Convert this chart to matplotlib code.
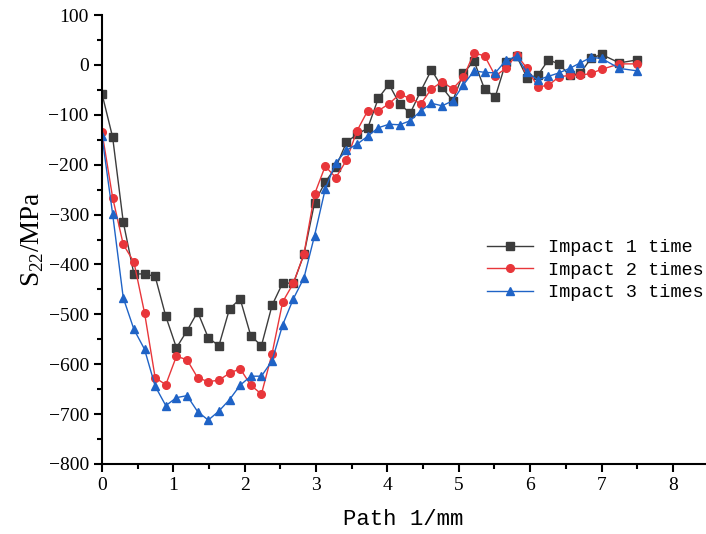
import matplotlib
matplotlib.use("Agg")
import matplotlib.pyplot as plt
from matplotlib.ticker import MultipleLocator

# Path positions (mm)
x = [0.000, 0.149, 0.298, 0.447, 0.596, 0.745, 0.894, 1.043, 1.191, 1.340,
     1.489, 1.638, 1.787, 1.936, 2.085, 2.234, 2.383, 2.532, 2.681, 2.830,
     2.979, 3.128, 3.277, 3.426, 3.574, 3.723, 3.872, 4.021, 4.170, 4.319,
     4.468, 4.617, 4.766, 4.915, 5.064, 5.213, 5.362, 5.511, 5.660, 5.809,
     5.957, 6.106, 6.255, 6.404, 6.553, 6.702, 6.851, 7.000, 7.250, 7.500]

impact1 = [-58, -145, -315, -419, -419, -424, -504, -567, -533, -495,
           -547, -563, -489, -469, -543, -563, -482, -437, -438, -380,
           -276, -235, -205, -155, -139, -127, -67, -39, -78, -97,
           -52, -10, -45, -72, -17, 8, -49, -64, 5, 18,
           -26, -21, 10, 2, -21, -17, 13, 21, 4, 10]

impact2 = [-135, -266, -360, -395, -497, -627, -641, -584, -591, -627,
           -635, -632, -618, -609, -642, -660, -579, -475, -438, -379,
           -259, -203, -226, -191, -132, -92, -92, -78, -59, -67,
           -78, -48, -34, -48, -25, 24, 18, -22, -7, 20,
           -7, -44, -41, -24, -21, -21, -17, -9, 2, 2]

impact3 = [-143, -299, -467, -530, -570, -644, -683, -667, -663, -695,
           -712, -694, -671, -642, -624, -624, -593, -521, -469, -427,
           -342, -249, -196, -171, -159, -143, -126, -119, -120, -112,
           -92, -77, -82, -72, -40, -12, -15, -16, 9, 17,
           -15, -30, -23, -16, -7, 4, 15, 13, -7, -12]

labels = ["Impact 1 time", "Impact 2 times", "Impact 3 times"]

fig = plt.figure(figsize=(7.06, 5.34), dpi=100)
ax = fig.add_axes([102/706, 1-464/534, (705-102)/706, (464-15)/534])

ax.plot(x, impact1, color="#3c3c3c", lw=1.0, marker="s", ms=5.3, label=labels[0])
ax.plot(x, impact2, color="#e8363a", lw=1.0, marker="o", ms=5.5, label=labels[1])
ax.plot(x, impact3, color="#1f63c6", lw=1.0, marker="^", ms=6, label=labels[2])

ax.set_xlim(0, 8.45)
ax.set_ylim(-800, 100)
ax.xaxis.set_major_locator(MultipleLocator(1))
ax.xaxis.set_minor_locator(MultipleLocator(0.5))
ax.yaxis.set_major_locator(MultipleLocator(100))
ax.yaxis.set_minor_locator(MultipleLocator(50))

for s in ["top", "right"]:
    ax.spines[s].set_visible(False)
for s in ["left", "bottom"]:
    ax.spines[s].set_linewidth(1.5)
ax.tick_params(which="major", direction="out", length=6, width=1.5)
ax.tick_params(which="minor", direction="out", length=3.5, width=1.5)

for lab in ax.get_xticklabels() + ax.get_yticklabels():
    lab.set_fontfamily("Liberation Serif")
    lab.set_fontsize(14)

ax.set_xlabel("Path 1/mm", fontfamily="Liberation Mono", fontsize=16, labelpad=11)
ax.set_ylabel(r"S$_{\mathregular{22}}$/MPa", fontfamily="Liberation Serif", fontsize=19.5, labelpad=2)

leg = ax.legend(frameon=False, loc="upper left",
                bbox_to_anchor=(487/706, 1-239/534), bbox_transform=fig.transFigure,
                prop={"family": "Liberation Mono", "size": 13.3},
                borderpad=0, handlelength=2.5, handletextpad=0.8, labelspacing=0.3,
                borderaxespad=0)

fig.savefig("out.png", dpi=100)
